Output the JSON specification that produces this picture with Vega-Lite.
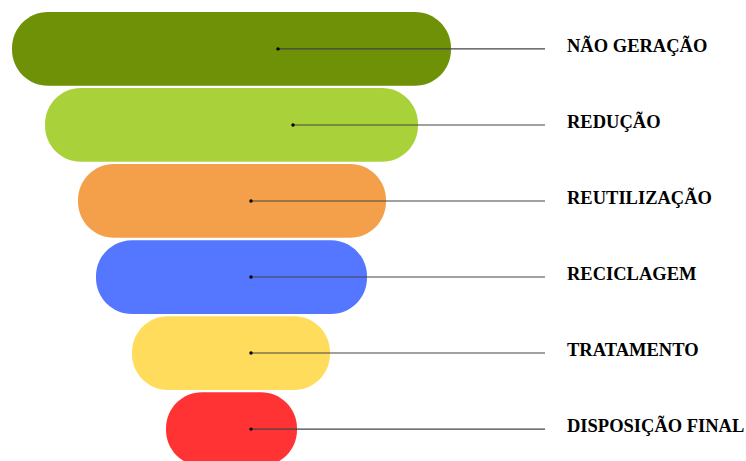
{
  "$schema": "https://vega.github.io/schema/vega-lite/v6.json",
  "width": 746,
  "height": 461,
  "padding": 0,
  "background": "white",
  "config": {"view": {"stroke": null}},
  "data": {
    "values": [
      {"stage": "NÃO GERAÇÃO", "start": 12, "end": 451, "marker": 278},
      {"stage": "REDUÇÃO", "start": 45, "end": 418, "marker": 293},
      {"stage": "REUTILIZAÇÃO", "start": 78, "end": 386, "marker": 251},
      {"stage": "RECICLAGEM", "start": 96, "end": 367, "marker": 251},
      {"stage": "TRATAMENTO", "start": 132, "end": 330, "marker": 251},
      {"stage": "DISPOSIÇÃO FINAL", "start": 166, "end": 297, "marker": 251}
    ]
  },
  "encoding": {
    "y": {
      "field": "stage",
      "type": "nominal",
      "sort": ["NÃO GERAÇÃO", "REDUÇÃO", "REUTILIZAÇÃO", "RECICLAGEM", "TRATAMENTO", "DISPOSIÇÃO FINAL"],
      "scale": {"type": "band", "range": [12, 466], "paddingInner": 0.03, "paddingOuter": 0},
      "axis": null
    }
  },
  "layer": [
    {
      "mark": {"type": "bar", "cornerRadius": 36},
      "encoding": {
        "x": {"field": "start", "type": "quantitative", "scale": {"domain": [0, 746], "nice": false, "zero": false}, "axis": null},
        "x2": {"field": "end"},
        "color": {
          "field": "stage",
          "type": "nominal",
          "scale": {
            "domain": ["NÃO GERAÇÃO", "REDUÇÃO", "REUTILIZAÇÃO", "RECICLAGEM", "TRATAMENTO", "DISPOSIÇÃO FINAL"],
            "range": ["#6E9108", "#A9D23A", "#F4A04B", "#5577FF", "#FFDC5C", "#FF3333"]
          },
          "legend": null
        }
      }
    },
    {
      "mark": {"type": "rule", "color": "#444444", "strokeWidth": 1.1},
      "encoding": {
        "x": {"field": "marker", "type": "quantitative"},
        "x2": {"datum": 545}
      }
    },
    {
      "mark": {"type": "point", "filled": true, "color": "black", "size": 12, "opacity": 1},
      "encoding": {
        "x": {"field": "marker", "type": "quantitative"}
      }
    },
    {
      "mark": {"type": "text", "align": "left", "baseline": "middle", "dy": -3, "font": "Liberation Serif", "fontWeight": "bold", "fontSize": 18.5, "color": "black"},
      "encoding": {
        "x": {"datum": 567},
        "text": {"field": "stage"}
      }
    }
  ]
}
